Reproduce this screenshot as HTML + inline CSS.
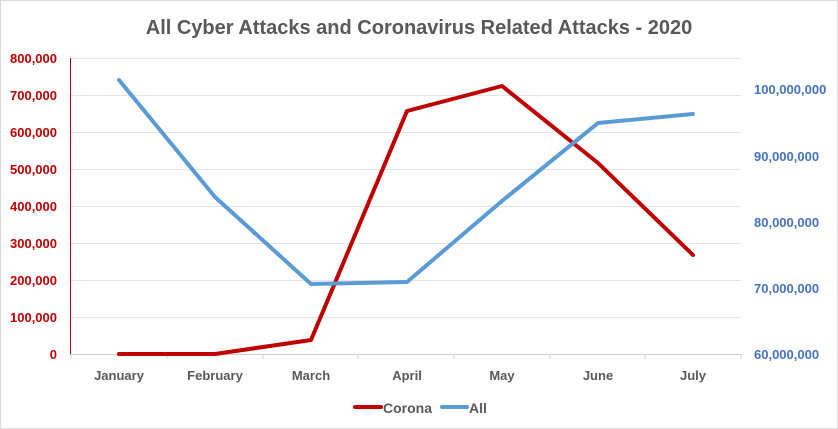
<!DOCTYPE html>
<html><head><style>
body{margin:0;background:#fff}
svg{display:block;font-family:"Liberation Sans",Arial,sans-serif}
</style></head><body>
<svg width="838" height="429" viewBox="0 0 838 429">
<rect x="0.5" y="0.5" width="837" height="428" fill="#fff" stroke="#d9d9d9"/>
<text x="419" y="34" text-anchor="middle" font-size="20" font-weight="bold" fill="#595959">All Cyber Attacks and Coronavirus Related Attacks - 2020</text>
<g stroke="#e4e4e4" stroke-width="1">
<line x1="70" x2="741" y1="58.5" y2="58.5"/><line x1="70" x2="741" y1="95.5" y2="95.5"/>
<line x1="70" x2="741" y1="132.5" y2="132.5"/><line x1="70" x2="741" y1="169.5" y2="169.5"/>
<line x1="70" x2="741" y1="206.5" y2="206.5"/><line x1="70" x2="741" y1="243.5" y2="243.5"/>
<line x1="70" x2="741" y1="280.5" y2="280.5"/><line x1="70" x2="741" y1="317.5" y2="317.5"/>
</g>
<g stroke="#d0d0d0"><line x1="70" x2="741" y1="354.5" y2="354.5"/>
<line x1="71" x2="71" y1="354" y2="359"/><line x1="167" x2="167" y1="354" y2="359"/><line x1="263" x2="263" y1="354" y2="359"/><line x1="358" x2="358" y1="354" y2="359"/><line x1="454" x2="454" y1="354" y2="359"/><line x1="550" x2="550" y1="354" y2="359"/><line x1="645" x2="645" y1="354" y2="359"/><line x1="741" x2="741" y1="354" y2="359"/></g>
<line x1="70.5" x2="70.5" y1="58" y2="354" stroke="#c00000" stroke-width="1"/>
<g font-size="13" font-weight="bold" fill="#c00000" text-anchor="end">
<text x="57" y="63">800,000</text><text x="57" y="100">700,000</text><text x="57" y="137">600,000</text>
<text x="57" y="174">500,000</text><text x="57" y="211">400,000</text><text x="57" y="248">300,000</text>
<text x="57" y="285">200,000</text><text x="57" y="322">100,000</text><text x="57" y="359">0</text>
</g>
<g font-size="13" font-weight="bold" fill="#4472c4">
<text x="754" y="94">100,000,000</text><text x="754" y="161">90,000,000</text>
<text x="754" y="227">80,000,000</text><text x="754" y="293">70,000,000</text><text x="754" y="359">60,000,000</text>
</g>
<g font-size="13" font-weight="bold" fill="#595959" text-anchor="middle">
<text x="119" y="380">January</text><text x="215" y="380">February</text><text x="311" y="380">March</text>
<text x="407" y="380">April</text><text x="502" y="380">May</text><text x="598" y="380">June</text><text x="693" y="380">July</text>
</g>
<polyline fill="none" stroke="#c00000" stroke-width="4" stroke-linejoin="round" stroke-linecap="round" points="119,354 215,354 311,340 407,111 502,86 598,163 693,255"/>
<polyline fill="none" stroke="#5b9bd5" stroke-width="4" stroke-linejoin="round" stroke-linecap="round" points="119,80 215,197 311,284 407,282 502,201 598,123 693,114"/>
<line x1="355" x2="381" y1="407" y2="407" stroke="#c00000" stroke-width="4" stroke-linecap="round"/>
<text x="383" y="413" font-size="14" font-weight="bold" fill="#595959">Corona</text>
<line x1="442" x2="467" y1="407" y2="407" stroke="#5b9bd5" stroke-width="4" stroke-linecap="round"/>
<text x="469" y="413" font-size="14" font-weight="bold" fill="#595959">All</text>
</svg>
</body></html>
